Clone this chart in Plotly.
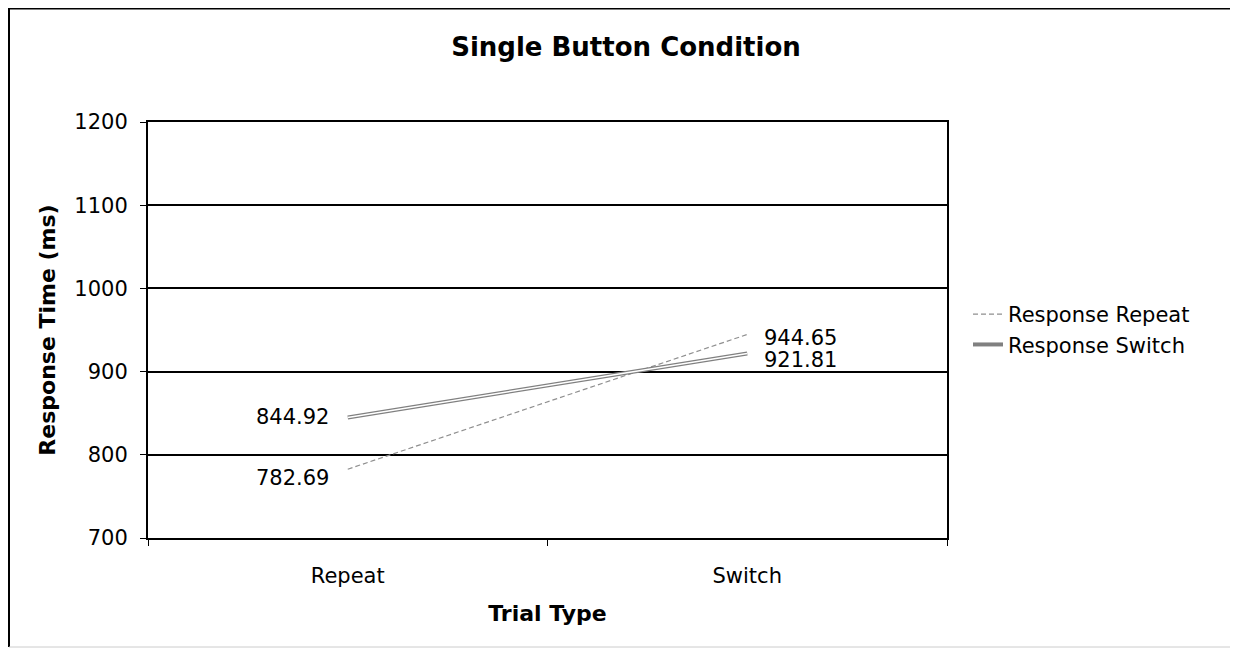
import plotly.graph_objects as go

categories = ["Repeat", "Switch"]
repeat_vals = [782.69, 944.65]
switch_vals = [844.92, 921.81]
y_ticks = [700, 800, 900, 1000, 1100, 1200]
series_names = ["Response Repeat", "Response Switch"]

# page has an 8px body margin, so the figure is 8px smaller and offset
W, H = 1230, 640
L, R, T, B = 140, 1230 - 939, 114, 640 - 530
pw, ph = W - L - R, H - T - B

FONT = "DejaVu Sans"

fig = go.Figure()

# Response Repeat: thin dashed grey line
fig.add_trace(go.Scatter(
    x=categories, y=repeat_vals, mode="lines", name=series_names[0],
    line=dict(color="#8f8f8f", width=1.2, dash="5px,3px"),
))
# Response Switch: double line (grey outer, white inner)
fig.add_trace(go.Scatter(
    x=categories, y=switch_vals, mode="lines", name=series_names[1],
    line=dict(color="#808080", width=4),
))
fig.add_trace(go.Scatter(
    x=categories, y=switch_vals, mode="lines", showlegend=False,
    line=dict(color="white", width=1.6), hoverinfo="skip",
))

label_yshift = {(0, 0): -9, (0, 1): -4, (1, 0): 0, (1, 1): -7}
annotations = []
for s, vals in enumerate((repeat_vals, switch_vals)):
    for i, (c, v) in enumerate(zip(categories, vals)):
        annotations.append(dict(
            x=c, y=v, xref="x", yref="y", text=f"{v:.2f}", showarrow=False,
            xanchor="right" if i == 0 else "left",
            xshift=-17 if i == 0 else 15,
            yshift=label_yshift[(s, i)],
            font=dict(family=FONT, size=21, color="black"),
        ))

def px_x(p):
    return (p - L) / pw

def px_y(p):
    return (H - B - p) / ph

shapes = [
    dict(type="line", xref="paper", yref="paper", x0=px_x(1), x1=px_x(1), y0=px_y(0), y1=px_y(639),
         line=dict(color="black", width=2)),
    dict(type="line", xref="paper", yref="paper", x0=px_x(1), x1=px_x(1229), y0=px_y(0.5), y1=px_y(0.5),
         line=dict(color="black", width=2)),
    dict(type="line", xref="paper", yref="paper", x0=px_x(1229), x1=px_x(1229), y0=px_y(0), y1=px_y(639),
         line=dict(color="#bbbbbb", width=1)),
    dict(type="line", xref="paper", yref="paper", x0=px_x(1), x1=px_x(1229), y0=px_y(639), y1=px_y(639),
         line=dict(color="#cccccc", width=1)),
]

fig.update_layout(
    width=W, height=H,
    margin=dict(l=L, r=R, t=T, b=B, autoexpand=False),
    paper_bgcolor="white", plot_bgcolor="white",
    font=dict(family=FONT, size=21, color="black"),
    title=dict(text="<b>Single Button Condition</b>", x=px_x(618), xanchor="center",
               xref="paper", y=1 - 39 / H, yanchor="middle",
               font=dict(family=FONT, size=26, color="black")),
    showlegend=True,
    legend=dict(x=px_x(960), y=px_y(286), xanchor="left", yanchor="top",
                font=dict(family=FONT, size=21, color="black"),
                bgcolor="rgba(0,0,0,0)", itemwidth=30, tracegroupgap=0),
    annotations=annotations,
    shapes=shapes,
    xaxis=dict(
        type="category", range=[-0.5, 1.5], tickson="boundaries",
        showline=True, linecolor="black", linewidth=2, mirror=True,
        ticks="outside", ticklen=6, tickcolor="black", tickwidth=1,
        showgrid=False, ticklabelstandoff=18,
        tickfont=dict(family=FONT, size=21),
        title=dict(text="<b>Trial Type</b>", standoff=18,
                   font=dict(family=FONT, size=22)),
    ),
    yaxis=dict(
        range=[700, 1200], tickvals=y_ticks,
        showline=True, linecolor="black", linewidth=2, mirror=True,
        ticks="outside", ticklen=6, tickcolor="black", tickwidth=1,
        showgrid=True, gridcolor="black", gridwidth=2,
        ticklabelstandoff=8,
        tickfont=dict(family=FONT, size=21),
        title=dict(text="<b>Response Time (ms)</b>", standoff=13,
                   font=dict(family=FONT, size=22)),
        zeroline=False,
    ),
)

fig.write_html("out.html")
